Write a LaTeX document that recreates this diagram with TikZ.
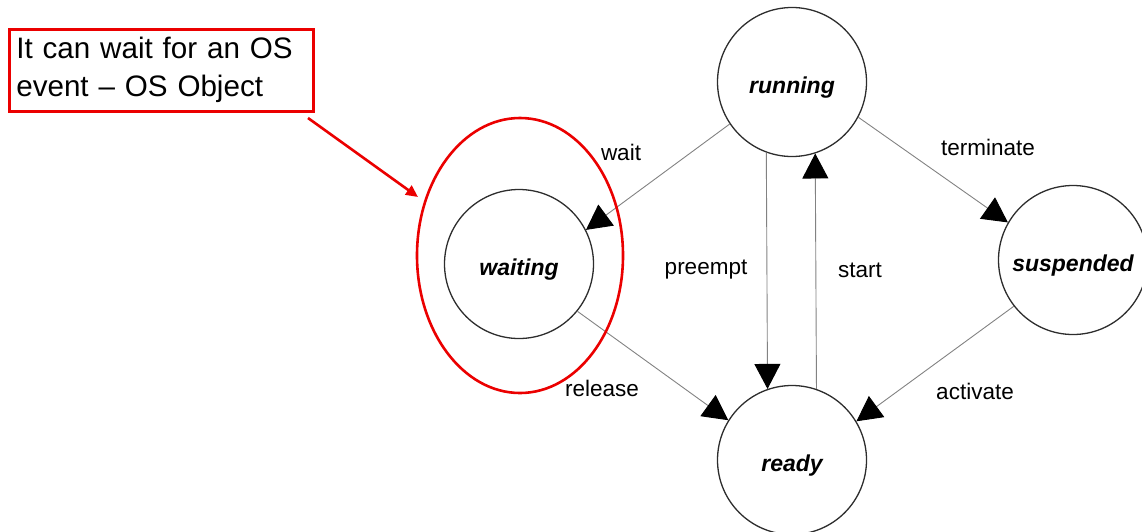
\documentclass[tikz,border=0pt]{standalone}
\usepackage{fontspec}
\setmainfont{Liberation Sans}
\usetikzlibrary{arrows.meta,shapes.geometric}
\definecolor{edgegray}{RGB}{130,130,130}
\definecolor{ringgray}{RGB}{45,45,45}
\definecolor{notered}{RGB}{235,0,0}
\begin{document}
\begin{tikzpicture}[x=1pt,y=-1pt,
  state/.style={circle,draw=ringgray,line width=1.3pt,minimum size=149pt,inner sep=0pt,
    text height=27pt,text depth=5pt,
    font=\fontsize{23}{27}\selectfont\bfseries\itshape},
  trans/.style={draw=edgegray,line width=0.9pt,-{Triangle[length=25pt,width=26pt,fill=black,color=black]}},
  lbl/.style={font=\fontsize{22.5}{27}\selectfont,inner sep=0pt},
  notebox/.style={draw=notered,line width=2.6pt,anchor=north west,minimum width=304pt,minimum height=82pt,
    text width=290pt,inner xsep=7pt,align=left,font=\fontsize{29.6}{38}\selectfont},
  pointer/.style={draw=notered,line width=2.6pt,-{Triangle[length=12pt,width=11pt]}}]
\useasboundingbox (0,0) rectangle (1142,531);

% states
\node[state] (running)   at (792,82)  {running};
\node[state] (waiting)   at (519,264) {waiting};
\node[state] (suspended) at (1073,260) {suspended};
\node[state] (ready)     at (792,460) {ready};

% transitions
\draw[trans] (running.214.7) -- (waiting.27);
\draw[trans] (running.332) -- (suspended.150);
\draw[trans] (suspended.218) -- (ready.31);
\draw[trans] (waiting.321) -- (ready.148);
\draw[trans] (running.250.4) -- (ready.109.6);
\draw[trans] (ready.71.2) -- (running.288.8);

% transition labels
\node[lbl] (lwait)      at (621,152) {wait};
\node[lbl] (lterminate) at (988,147) {terminate};
\node[lbl] (lpreempt)   at (706,270) {preempt};
\node[lbl] (lstart)     at (860,270) {start};
\node[lbl] (lrelease)   at (602,388) {release};
\node[lbl] (lactivate)  at (975,391) {activate};

% highlight around the waiting state
\node[ellipse,draw=notered,line width=2.6pt,minimum width=206pt,minimum height=275pt,inner sep=0pt]
  (focus) at (520,255.5) {};

% callout
\node[notebox] (note) at (8,28) {It can wait for an OS\\event – OS Object};
\coordinate (notetail) at (308,118);
\coordinate (notehead) at (418,197);
\draw[pointer] (notetail) -- (notehead);
\end{tikzpicture}
\end{document}
